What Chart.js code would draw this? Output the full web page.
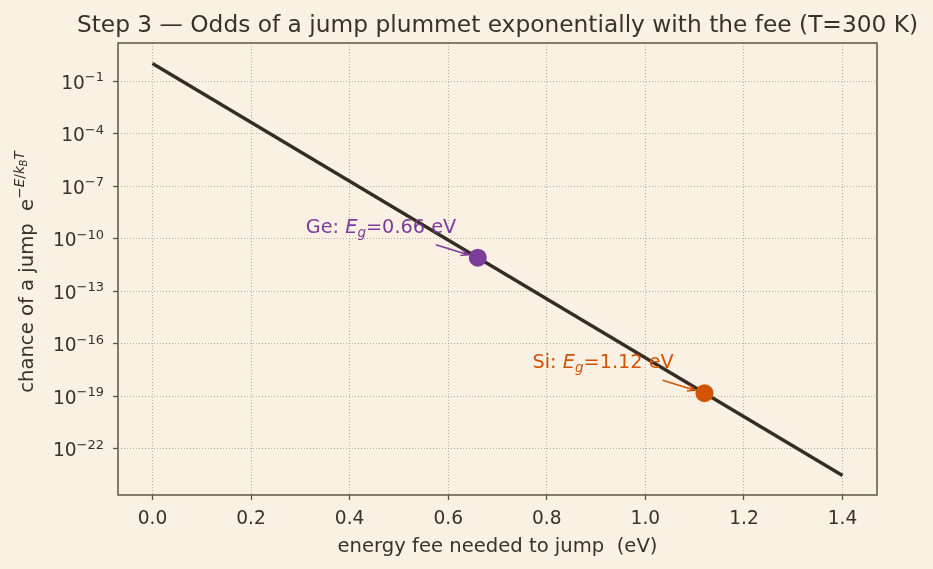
<!DOCTYPE html>
<html>
<head>
<meta charset="utf-8">
<script src="https://cdn.jsdelivr.net/npm/chart.js@4/dist/chart.umd.min.js"></script>
<style>
  html, body { margin: 0; padding: 0; background: #faf1e4; }
  #wrap { width: 933px; height: 569px; }
</style>
</head>
<body>
<div id="wrap"><canvas id="chanceChart" width="933" height="569"></canvas></div>
<script>
// Values
const lineEnergy = [0, 1.4];          // eV
const lineChance = [1, 3e-24];        // e^(-E/kT) at the two ends
const materials = ['Ge', 'Si'];
const gapEnergy = [0.66, 1.12];       // eV
const gapChance = [8.2e-12, 1.5e-19];
const xTicks = [0, 0.2, 0.4, 0.6, 0.8, 1.0, 1.2, 1.4];
const yTickPowers = [-1, -4, -7, -10, -13, -16, -19, -22];

const FONT = "'DejaVu Sans', sans-serif";
const INK = '#3b3129';
const SPINE = '#5f5345';
const GRID = 'rgba(125, 115, 100, 0.6)';
const matColors = ['#7d3c98', '#d35400'];

// draws a run of text pieces (for super/subscripts), returns its width
function richWidth(ctx, parts) {
    let w = 0;
    parts.forEach(p => {
        ctx.font = (p.italic ? 'italic ' : '') + p.size + 'px ' + FONT;
        w += ctx.measureText(p.t).width;
    });
    return w;
}
function drawRich(ctx, parts, x, y, color) {
    ctx.fillStyle = color;
    ctx.textBaseline = 'alphabetic';
    ctx.textAlign = 'left';
    parts.forEach(p => {
        ctx.font = (p.italic ? 'italic ' : '') + p.size + 'px ' + FONT;
        ctx.fillText(p.t, x, y + (p.dy || 0));
        x += ctx.measureText(p.t).width;
    });
}

const decorPlugin = {
    id: 'decor',
    beforeDraw(chart) {
        const ctx = chart.ctx;
        ctx.save();
        ctx.fillStyle = '#faf1e4';
        ctx.fillRect(0, 0, chart.width, chart.height);
        ctx.restore();
    },
    afterDraw(chart) {
        const ctx = chart.ctx;
        const area = chart.chartArea;
        const yScale = chart.scales.y;
        const xScale = chart.scales.x;
        ctx.save();

        // frame
        ctx.strokeStyle = SPINE;
        ctx.lineWidth = 1.5;
        ctx.strokeRect(area.left, area.top, area.right - area.left, area.bottom - area.top);

        // title
        ctx.fillStyle = INK;
        ctx.font = '23.3px ' + FONT;
        ctx.textAlign = 'center';
        ctx.textBaseline = 'alphabetic';
        ctx.fillText('Step 3 \u2014 Odds of a jump plummet exponentially with the fee (T=300 K)',
            (area.left + area.right) / 2, 32);

        // y tick labels as 10^n
        yTickPowers.forEach(p => {
            const y = yScale.getPixelForValue(Math.pow(10, p));
            const parts = [
                { t: '10', size: 18.6 },
                { t: '\u2212' + Math.abs(p), size: 13, dy: -7.5 }
            ];
            const w = richWidth(ctx, parts);
            drawRich(ctx, parts, area.left - 14 - w, y + 7.5, INK);
        });

        // y axis label with e^{-E/k_B T}
        const lab = [
            { t: 'chance of a jump  e', size: 19.6 },
            { t: '\u2212', size: 13.7, dy: -9 },
            { t: 'E', size: 13.7, italic: true, dy: -9 },
            { t: '/', size: 13.7, dy: -9 },
            { t: 'k', size: 13.7, italic: true, dy: -9 },
            { t: 'B', size: 9.6, italic: true, dy: -6 },
            { t: 'T', size: 13.7, italic: true, dy: -9 }
        ];
        const lw = richWidth(ctx, lab);
        ctx.save();
        ctx.translate(33, (area.top + area.bottom) / 2);
        ctx.rotate(-Math.PI / 2);
        drawRich(ctx, lab, -lw / 2 - 3, 0, INK);
        ctx.restore();

        // annotations for Ge and Si
        materials.forEach((m, i) => {
            const px = xScale.getPixelForValue(gapEnergy[i]);
            const py = yScale.getPixelForValue(gapChance[i]);
            const parts = [
                { t: m + ': ', size: 19.3 },
                { t: 'E', size: 19.3, italic: true },
                { t: 'g', size: 13.5, italic: true, dy: 4 },
                { t: '=' + gapEnergy[i].toFixed(2) + ' eV', size: 19.3 }
            ];
            drawRich(ctx, parts, px - 172, py - 25, matColors[i]);

            // arrow "->"
            const sx = px - 42, sy = py - 13;
            const ang = Math.atan2(py - sy, px - sx);
            const ex = px - 10 * Math.cos(ang), ey = py - 10 * Math.sin(ang);
            ctx.strokeStyle = matColors[i];
            ctx.lineWidth = 1.6;
            ctx.beginPath();
            ctx.moveTo(sx, sy);
            ctx.lineTo(ex, ey);
            ctx.moveTo(ex - 8 * Math.cos(ang - 0.4), ey - 8 * Math.sin(ang - 0.4));
            ctx.lineTo(ex, ey);
            ctx.lineTo(ex - 8 * Math.cos(ang + 0.4), ey - 8 * Math.sin(ang + 0.4));
            ctx.stroke();
        });

        ctx.restore();
    }
};

const ctx = document.getElementById('chanceChart').getContext('2d');
new Chart(ctx, {
    type: 'scatter',
    data: {
        datasets: [
            {
                label: 'e^(-E/kT)',
                data: lineEnergy.map((e, i) => ({ x: e, y: lineChance[i] })),
                showLine: true,
                borderColor: '#362c23',
                borderWidth: 3.3,
                pointRadius: 0,
                order: 2
            },
            {
                label: 'band gaps',
                data: gapEnergy.map((e, i) => ({ x: e, y: gapChance[i] })),
                showLine: false,
                pointRadius: 9,
                pointHoverRadius: 9,
                pointBorderWidth: 0,
                pointBackgroundColor: matColors,
                pointBorderColor: matColors,
                order: 1
            }
        ]
    },
    options: {
        responsive: false,
        devicePixelRatio: 1,
        animation: false,
        events: [],
        layout: { padding: { left: 0, top: 43, right: 56, bottom: 0 } },
        plugins: {
            legend: { display: false },
            tooltip: { enabled: false },
            title: { display: false }
        },
        scales: {
            x: {
                type: 'linear',
                min: -0.07,
                max: 1.47,
                afterBuildTicks: scale => { scale.ticks = xTicks.map(v => ({ value: v })); },
                afterFit: scale => { scale.height = 74; },
                ticks: {
                    color: INK,
                    font: { family: FONT, size: 18.6 },
                    padding: 8,
                    maxRotation: 0,
                    callback: v => v.toFixed(1)
                },
                grid: {
                    color: GRID,
                    lineWidth: 0.9,
                    drawTicks: true,
                    tickLength: 5,
                    tickColor: SPINE,
                    tickWidth: 1.3
                },
                border: { display: false, dash: [1, 2] },
                title: {
                    display: true,
                    text: 'energy fee needed to jump  (eV)',
                    color: INK,
                    font: { family: FONT, size: 19.6 },
                    padding: { top: 0, bottom: 10 }
                }
            },
            y: {
                type: 'logarithmic',
                min: 2.3e-25,
                max: 14.8,
                bounds: 'data',
                afterBuildTicks: scale => { scale.ticks = yTickPowers.map(p => ({ value: Math.pow(10, p) })); },
                afterFit: scale => { scale.width = 118; },
                ticks: { display: false },
                grid: {
                    color: GRID,
                    lineWidth: 0.9,
                    drawTicks: true,
                    tickLength: 5,
                    tickColor: SPINE,
                    tickWidth: 1.3
                },
                border: { display: false, dash: [1, 2] }
            }
        }
    },
    plugins: [decorPlugin]
});
</script>
</body>
</html>
